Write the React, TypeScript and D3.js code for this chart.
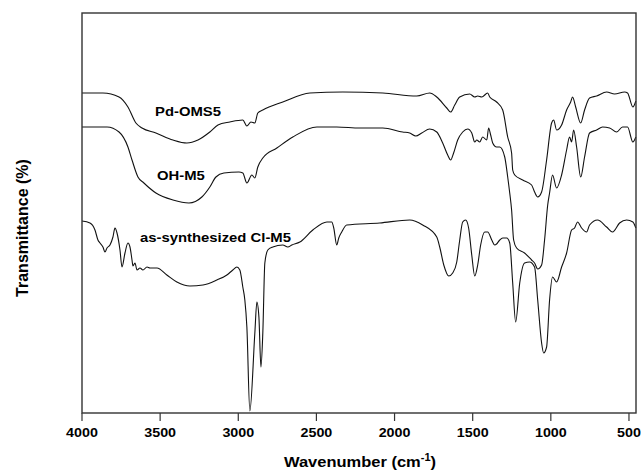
import React from "react";
import * as d3 from "d3";

// Wavenumber (cm-1) and transmittance (arbitrary offset units) for each spectrum
const pdOMS5Wavenumber = [4000,3866,3763,3706,3655,3616,3527,3418,3329,3258,3182,3130,3054,2971,2945,2919,2894,2875,2843,2715,2542,2331,2075,1858,1775,1730,1666,1641,1615,1583,1519,1487,1468,1442,1404,1391,1347,1308,1276,1251,1244,1231,1180,1123,1104,1084,1059,1027,995,982,963,931,899,873,861,841,809,784,752,707,643,592,528,509,475,456];
const pdOMS5T = [320,320,316,306,290,285,280,273,270,273,281,288,291,293,287,291,290,300,303,311,320,321,320,317,320,316,305,301,308,316,319,316,317,316,320,316,311,303,276,260,243,238,233,228,221,216,221,253,290,293,283,288,303,311,316,306,290,303,315,317,321,319,321,320,306,312];

const ohM5Wavenumber = [4000,3840,3763,3706,3680,3642,3604,3527,3418,3316,3233,3182,3143,3092,2996,2971,2945,2913,2894,2875,2843,2753,2651,2497,2370,2222,2075,1948,1903,1864,1826,1775,1730,1692,1660,1641,1622,1596,1564,1532,1506,1487,1474,1455,1436,1410,1398,1385,1372,1347,1327,1295,1276,1263,1251,1238,1219,1168,1123,1104,1084,1059,1040,1020,1008,989,963,931,899,880,867,854,835,809,784,752,707,669,624,579,541,509,475,456];
const ohM5T = [286,286,281,266,253,236,230,220,213,210,216,226,236,240,241,240,230,238,235,246,255,265,276,286,286,285,285,281,280,277,280,284,281,270,258,253,260,273,281,284,280,271,273,271,276,273,285,278,270,266,266,256,236,220,203,173,165,160,153,150,144,148,173,208,220,238,225,238,263,276,271,283,266,236,256,280,283,286,285,281,286,286,271,276];

const clM5Wavenumber = [4000,3949,3917,3898,3885,3866,3853,3840,3821,3802,3789,3776,3757,3744,3725,3706,3693,3680,3674,3661,3648,3629,3610,3584,3565,3520,3457,3393,3309,3226,3137,3073,3035,3009,2990,2971,2958,2945,2926,2894,2881,2868,2855,2843,2830,2811,2779,2715,2683,2657,2606,2523,2433,2402,2389,2370,2357,2338,2306,2095,1903,1820,1730,1711,1685,1653,1628,1602,1583,1564,1545,1526,1506,1487,1468,1449,1423,1404,1378,1359,1347,1327,1308,1282,1263,1244,1225,1199,1168,1136,1104,1084,1059,1046,1027,1008,989,963,931,899,867,848,829,803,771,752,701,643,605,560,515,475,456];
const clM5T = [192,190,183,173,170,166,161,165,168,176,185,180,163,146,160,170,166,153,147,150,143,145,143,146,145,145,138,131,127,128,133,138,143,146,143,126,113,86,2,80,111,96,46,80,150,163,166,168,166,168,171,183,191,191,185,168,175,181,188,190,193,188,176,166,148,137,140,151,173,191,193,185,158,137,148,168,181,181,173,168,169,173,175,175,170,130,91,130,150,151,146,113,70,60,66,113,136,131,146,160,183,185,191,185,181,188,193,186,181,190,193,191,185];

const seriesNames = ["Pd-OMS5", "OH-M5", "as-synthesized Cl-M5"];
const xTicks = [4000, 3500, 3000, 2500, 2000, 1500, 1000, 500];

const W = 644;
const H = 473;
const left = 82;
const right = 636;
const top = 13;
const bottom = 413;
const font = "'Liberation Sans', Arial, Helvetica, sans-serif";

export default function App() {
  const x = d3.scaleLinear().domain([4000, 455]).range([left, right]);
  const y = d3.scaleLinear().domain([0, 400]).range([bottom, top]);
  const line = d3
    .line<[number, number]>()
    .x((d) => x(d[0]))
    .y((d) => y(d[1]))
    .curve(d3.curveMonotoneX);

  const series = [
    { name: seriesNames[0], wn: pdOMS5Wavenumber, t: pdOMS5T, lx: 155, ly: 116 },
    { name: seriesNames[1], wn: ohM5Wavenumber, t: ohM5T, lx: 157, ly: 180 },
    { name: seriesNames[2], wn: clM5Wavenumber, t: clM5T, lx: 140, ly: 242 },
  ];

  return (
    <div style={{ position: "fixed", left: 0, top: 0, width: W, height: H, background: "#fff" }}>
      <svg width={W} height={H} style={{ display: "block" }}>
        <rect x={0} y={0} width={W} height={H} fill="#fff" />
        {series.map((s) => (
          <path
            key={s.name}
            d={line(s.wn.map((w, i) => [w, s.t[i]] as [number, number])) || ""}
            fill="none"
            stroke="#111"
            strokeWidth={1.1}
          />
        ))}
        <rect x={left} y={top} width={right - left} height={bottom - top} fill="none" stroke="#333" strokeWidth={1.4} />
        {xTicks.map((t) => (
          <g key={t}>
            <line x1={x(t)} x2={x(t)} y1={bottom} y2={bottom + 8} stroke="#333" strokeWidth={1.2} />
            <text
              transform={`translate(${x(t)},${437}) scale(1.1,1)`}
              textAnchor="middle"
              fontFamily={font}
              fontWeight="bold"
              fontSize={13}
              fill="#000"
            >
              {t}
            </text>
          </g>
        ))}
        {series.map((s) => (
          <text
            key={s.name + "-label"}
            transform={`translate(${s.lx},${s.ly}) scale(1.1,1)`}
            fontFamily={font}
            fontWeight="bold"
            fontSize={13.5}
            fill="#000"
          >
            {s.name}
          </text>
        ))}
        <text
          transform={`translate(360,467) scale(1.1,1)`}
          textAnchor="middle"
          fontFamily={font}
          fontWeight="bold"
          fontSize={15}
          fill="#000"
        >
          Wavenumber (cm
          <tspan fontSize={10} dy={-6}>-1</tspan>
          <tspan dy={6}>)</tspan>
        </text>
        <text
          transform={`translate(28,228) rotate(-90)`}
          textAnchor="middle"
          fontFamily={font}
          fontWeight="bold"
          fontSize={16}
          fill="#000"
        >
          Transmittance (%)
        </text>
      </svg>
    </div>
  );
}
